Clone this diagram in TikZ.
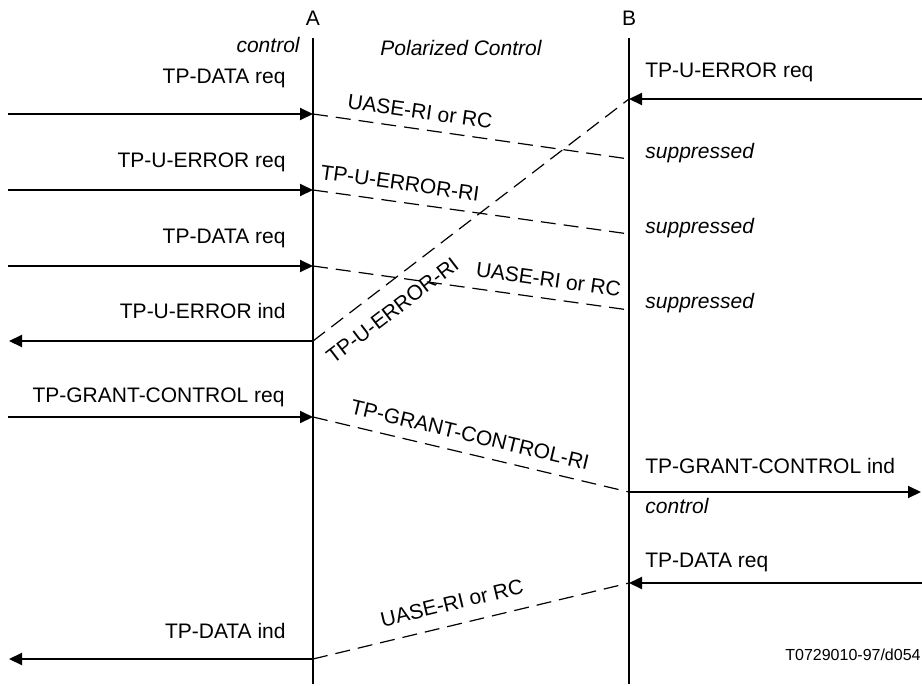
\documentclass[tikz,border=0pt]{standalone}
\usepackage{fontspec}
\setmainfont{Liberation Sans}
\usetikzlibrary{arrows.meta}
\begin{document}
\begin{tikzpicture}[x=0.5pt,y=-0.5pt,
  life/.style={line width=1pt},
  msg/.style={line width=1pt,-{Triangle[length=6.5pt,width=6pt]}},
  sig/.style={line width=0.6pt,dash pattern=on 7.5pt off 4pt},
  lbl/.style={inner sep=0pt,font=\fontsize{10.5}{12}\selectfont},
  ilbl/.style={inner sep=0pt,font=\fontsize{10.5}{12}\selectfont\itshape},
  slbl/.style={inner sep=0pt,sloped,font=\fontsize{10.5}{12}\selectfont},
  small/.style={inner sep=0pt,font=\fontsize{8}{10}\selectfont}]
\useasboundingbox (0,0) rectangle (922,686);
% lifelines
\coordinate (Atop) at (313,38);
\coordinate (Abot) at (313,684);
\coordinate (Btop) at (629,38);
\coordinate (Bbot) at (629,684);
\draw[life] (Atop) -- (Abot);
\draw[life] (Btop) -- (Bbot);
\node[lbl,anchor=base] (labA) at (313,25) {A};
\node[lbl,anchor=base] (labB) at (629,25) {B};
\node[ilbl,anchor=base east] (ctlA) at (300,52) {control};
\node[ilbl,anchor=base] (pol) at (461,55) {Polarized Control};
% points on A
\coordinate (a1) at (313,114);
\coordinate (a2) at (313,190);
\coordinate (a3) at (313,266);
\coordinate (a4) at (313,341);
\coordinate (a5) at (313,417);
\coordinate (a6) at (313,659);
% points on B
\coordinate (b0) at (629,99);
\coordinate (b1) at (629,159);
\coordinate (b2) at (629,234);
\coordinate (b3) at (629,310);
\coordinate (b5) at (629,492);
\coordinate (b6) at (629,583);
% outer ends
\coordinate (l1) at (8,114);
\coordinate (l2) at (8,190);
\coordinate (l3) at (8,266);
\coordinate (l4) at (9,341);
\coordinate (l5) at (8,417);
\coordinate (l6) at (9,659);
\coordinate (r0) at (922,99);
\coordinate (r5) at (921,492);
\coordinate (r6) at (922,583);
% left primitives
\draw[msg] (l1) -- (a1);
\draw[msg] (l2) -- (a2);
\draw[msg] (l3) -- (a3);
\draw[msg] (a4) -- (l4);
\draw[msg] (l5) -- (a5);
\draw[msg] (a6) -- (l6);
\node[lbl,anchor=base east] (t1) at (286,83) {TP-DATA req};
\node[lbl,anchor=base east] (t2) at (286,167) {TP-U-ERROR req};
\node[lbl,anchor=base east] (t3) at (286,243) {TP-DATA req};
\node[lbl,anchor=base east] (t4) at (286,318) {TP-U-ERROR ind};
\node[lbl,anchor=base east] (t5) at (285,402) {TP-GRANT-CONTROL req};
\node[lbl,anchor=base east] (t6) at (286,638) {TP-DATA ind};
% right primitives
\draw[msg] (r0) -- (b0);
\draw[msg] (b5) -- (r5);
\draw[msg] (r6) -- (b6);
\node[lbl,anchor=base west] (u0) at (645,77) {TP-U-ERROR req};
\node[ilbl,anchor=base west] (s1) at (645,158) {suppressed};
\node[ilbl,anchor=base west] (s2) at (645,233) {suppressed};
\node[ilbl,anchor=base west] (s3) at (645,308) {suppressed};
\node[lbl,anchor=base west] (u5) at (645,473) {TP-GRANT-CONTROL ind};
\node[ilbl,anchor=base west] (ctlB) at (645,513) {control};
\node[lbl,anchor=base west] (u6) at (645,567) {TP-DATA req};
\node[small,anchor=base east] (ref) at (921,660) {T0729010-97/d054};
% protocol messages
\draw[sig] (a1) -- node[slbl,pos=0.331,above=4.8pt] (m1) {UASE-RI or RC} (b1);
\draw[sig] (a2) -- node[slbl,pos=0.267,above=5.5pt] (m2) {TP-U-ERROR-RI} (b2);
\draw[sig] (a3) -- node[slbl,pos=0.737,above=5.5pt] (m3) {UASE-RI or RC} (b3);
\draw[sig] (a4) -- node[slbl,pos=0.205,below=8pt] (m4) {TP-U-ERROR-RI} (b0);
\draw[sig] (a5) -- node[slbl,pos=0.483,above=5.5pt] (m5) {TP-GRANT-CONTROL-RI} (b5);
\draw[sig] (a6) -- node[slbl,pos=0.456,above=7pt] (m6) {UASE-RI or RC} (b6);
\end{tikzpicture}
\end{document}
